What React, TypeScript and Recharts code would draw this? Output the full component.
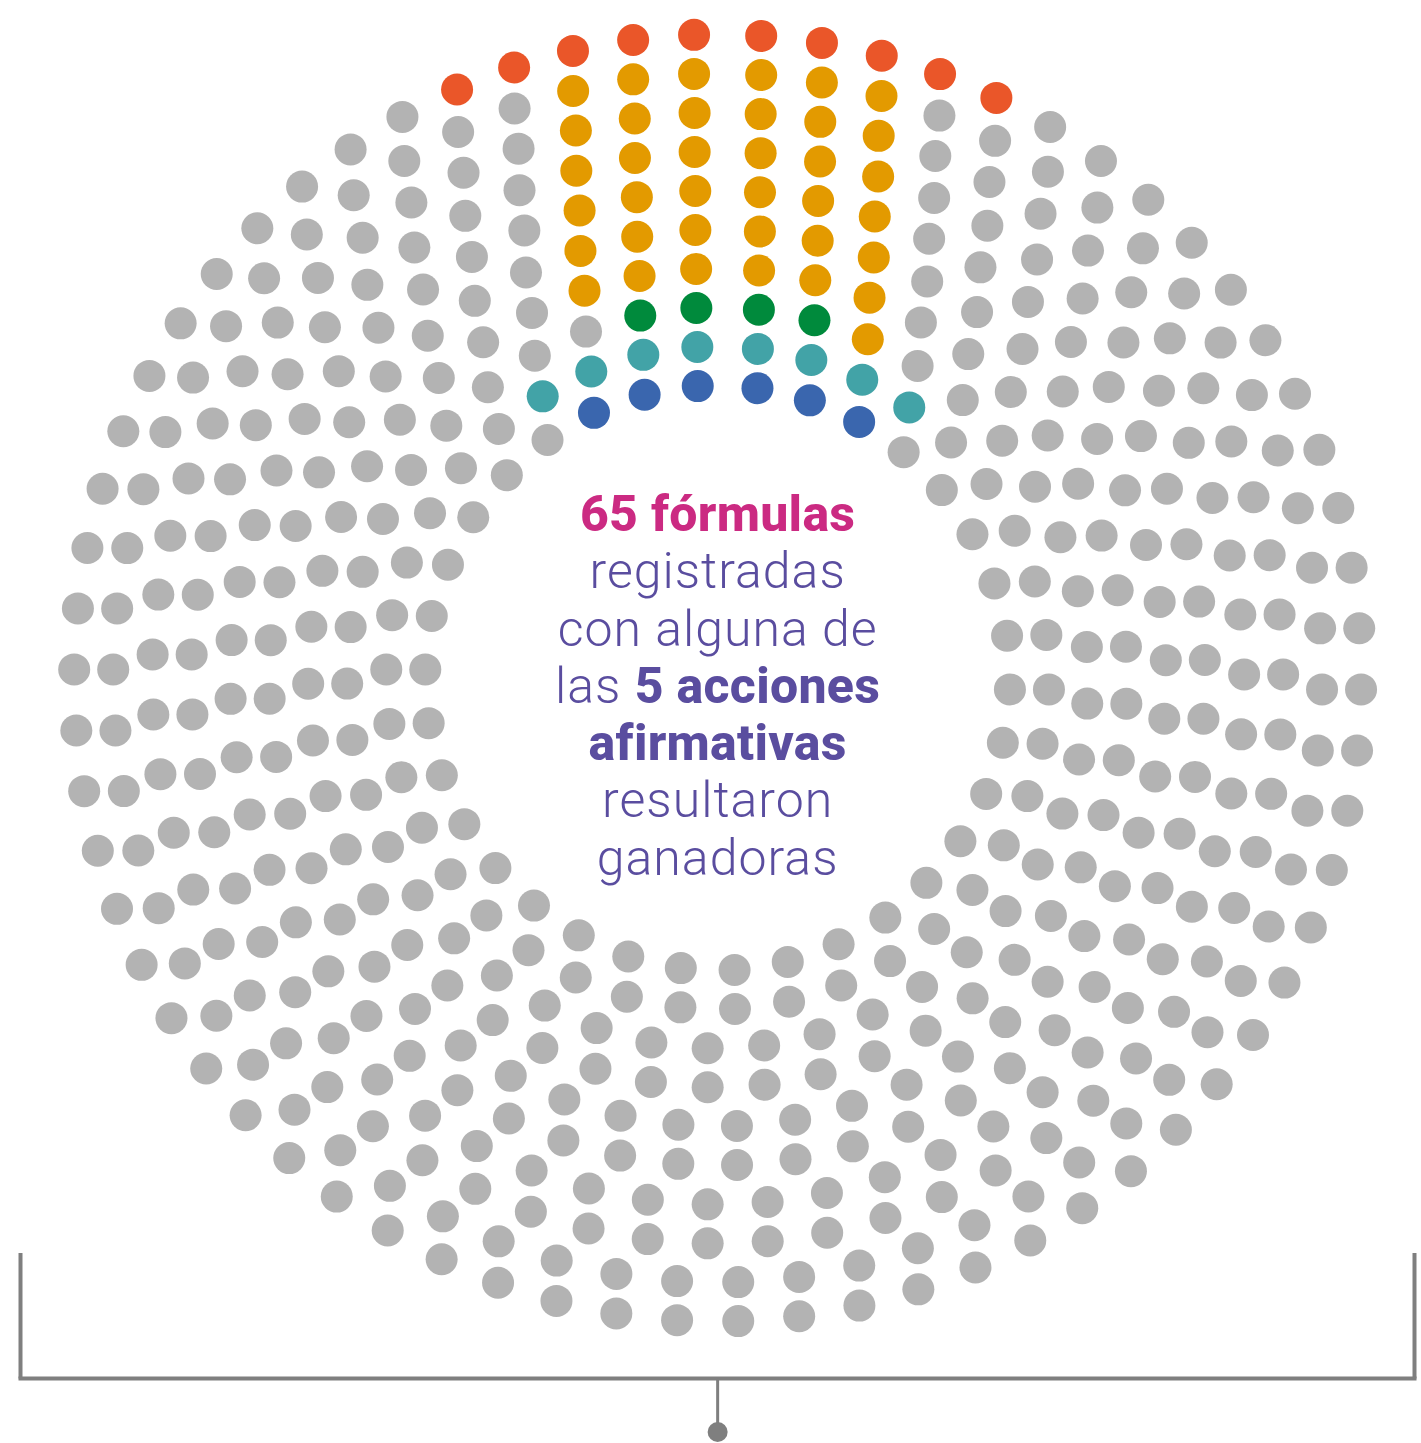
import React from 'react';
import { ScatterChart, Scatter, XAxis, YAxis, ReferenceLine, ReferenceDot } from 'recharts';

// ---- data ----
// number of formulas (dots) per ring, from the inner ring (0) to the outer ring (9)
const ringCounts = [34, 38, 41, 45, 48, 52, 55, 59, 62, 66];
// winning formulas per ring for each affirmative action group
const blueByRing = [6, 0, 0, 0, 0, 0, 0, 0, 0, 0];
const tealByRing = [0, 8, 0, 0, 0, 0, 0, 0, 0, 0];
const greenByRing = [0, 0, 4, 0, 0, 0, 0, 0, 0, 0];
const yellowByRing = [0, 0, 1, 6, 6, 6, 6, 6, 6, 0];
const redByRing = [0, 0, 0, 0, 0, 0, 0, 0, 0, 10];
const groupKeys = ['blue', 'teal', 'green', 'yellow', 'red'];
const headline = ['65 fórmulas', 'registradas', 'con alguna de', 'las', '5 acciones', 'afirmativas', 'resultaron', 'ganadoras'];

// ---- styling / geometry ----
const W = 1421;
const H = 1443;
const CX = 717.65;
const CY = 677.93;
const INNER_R = 292.5;
const RING_GAP = 39;
const DOT_R = 16;
const SEAM_PX = 6;
const ROT_PX = 10;
const colors: Record<string, string> = {
  gray: '#B3B3B3',
  blue: '#3A66AE',
  teal: '#42A3A7',
  green: '#008A3C',
  yellow: '#E39A00',
  red: '#EA5629',
};
const groupData: Record<string, number[]> = {
  blue: blueByRing,
  teal: tealByRing,
  green: greenByRing,
  yellow: yellowByRing,
  red: redByRing,
};

type Pt = { x: number; y: number; ring: number; idx: number };

function buildPoints() {
  const out: Record<string, Pt[]> = { gray: [], blue: [], teal: [], green: [], yellow: [], red: [] };
  ringCounts.forEach((n, k) => {
    const r = INNER_R + RING_GAP * k;
    const seamDeg = (SEAM_PX / r) * (180 / Math.PI);
    const rotDeg = (ROT_PX / r) * (180 / Math.PI);
    const step = (360 - seamDeg) / n;
    const owner: string[] = new Array(n).fill('gray');
    let p = 0;
    groupKeys.forEach((g) => {
      const c = groupData[g][k];
      for (let i = 0; i < c; i++) {
        const j = p % 2 === 0 ? p / 2 : n - 1 - (p - 1) / 2;
        owner[j] = g;
        p++;
      }
    });
    for (let j = 0; j < n; j++) {
      const th = ((rotDeg + seamDeg / 2 + (j + 0.5) * step) * Math.PI) / 180;
      out[owner[j]].push({ x: r * Math.sin(th), y: r * Math.cos(th), ring: k, idx: j });
    }
  });
  return out;
}

const points = buildPoints();

const dotShape = (color: string) => (props: any) => (
  <circle cx={props.cx} cy={props.cy} r={DOT_R} fill={color} />
);

const bx0 = 20.5 - CX;
const bx1 = 1414.5 - CX;
const byTop = CY - 1253;
const byLine = CY - 1378.5;
const byStem = CY - 1428;
const byDot = CY - 1432;
const GRAY_LINE = '#7F7F7F';

const boldStyle = { fontWeight: 800, letterSpacing: '0.3px' };

export default function App() {
  return (
    <div style={{ position: 'absolute', left: 0, top: 0, width: W, height: H, background: '#fff' }}>
      <ScatterChart width={W} height={H} margin={{ top: 0, right: 0, bottom: 0, left: 0 }}>
        <XAxis type="number" dataKey="x" domain={[-CX, W - CX]} hide allowDataOverflow />
        <YAxis type="number" dataKey="y" domain={[CY - H, CY]} hide allowDataOverflow />
        {(['gray', 'blue', 'teal', 'green', 'yellow', 'red'] as const).map((g) => (
          <Scatter
            key={g}
            name={g}
            data={points[g]}
            fill={colors[g]}
            shape={dotShape(colors[g])}
            isAnimationActive={false}
          />
        ))}
        <ReferenceLine
          segment={[{ x: bx0, y: byTop }, { x: bx0, y: byLine }]}
          stroke={GRAY_LINE}
          strokeWidth={4}
          ifOverflow="visible"
        />
        <ReferenceLine
          segment={[{ x: bx1, y: byTop }, { x: bx1, y: byLine }]}
          stroke={GRAY_LINE}
          strokeWidth={4}
          ifOverflow="visible"
        />
        <ReferenceLine
          segment={[{ x: bx0 - 2, y: byLine }, { x: bx1 + 2, y: byLine }]}
          stroke={GRAY_LINE}
          strokeWidth={4}
          ifOverflow="visible"
        />
        <ReferenceLine
          segment={[{ x: 0, y: byLine }, { x: 0, y: byStem }]}
          stroke={GRAY_LINE}
          strokeWidth={3}
          ifOverflow="visible"
        />
        <ReferenceDot x={0} y={byDot} r={10} fill={GRAY_LINE} stroke="none" ifOverflow="visible" />
      </ScatterChart>
      <div
        style={{
          position: 'absolute',
          left: CX - 300,
          top: 486,
          width: 600,
          textAlign: 'center',
          fontFamily: 'Roboto, sans-serif',
          fontSize: 50,
          lineHeight: '57.3px',
          letterSpacing: '1px',
          color: '#5A4D9F',
          fontWeight: 300,
        }}
      >
        <div style={{ ...boldStyle, color: '#CB2A82' }}>{headline[0]}</div>
        <div>{headline[1]}</div>
        <div>{headline[2]}</div>
        <div>
          {headline[3]} <span style={boldStyle}>{headline[4]}</span>
        </div>
        <div style={boldStyle}>{headline[5]}</div>
        <div>{headline[6]}</div>
        <div>{headline[7]}</div>
      </div>
    </div>
  );
}
